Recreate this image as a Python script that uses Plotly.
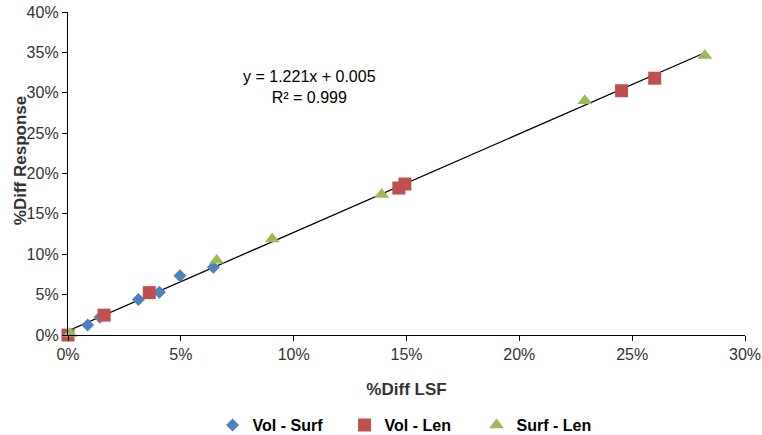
import numpy as np
import plotly.graph_objects as go

# Data (fractions)
vol_surf_x = [0.0087, 0.0142, 0.0312, 0.0405, 0.0496, 0.0644]
vol_surf_y = [0.0123, 0.0220, 0.0440, 0.0530, 0.0735, 0.0840]
vol_len_x = [0.0000, 0.0160, 0.0360, 0.1466, 0.1493, 0.2453, 0.2600]
vol_len_y = [0.0000, 0.0246, 0.0525, 0.1820, 0.1870, 0.3025, 0.3180]
surf_len_x = [0.0009, 0.0659, 0.0905, 0.1390, 0.2290, 0.2822]
surf_len_y = [0.0020, 0.0925, 0.1190, 0.1740, 0.2900, 0.3460]
slope, intercept, r2 = 1.221, 0.005, 0.999
x_ticks = [0, 0.05, 0.10, 0.15, 0.20, 0.25, 0.30]
y_ticks = [0, 0.05, 0.10, 0.15, 0.20, 0.25, 0.30, 0.35, 0.40]

FONT = "Liberation Sans, Arial"
all_x = vol_surf_x + vol_len_x + surf_len_x
line_x = np.array([min(all_x), max(all_x)])
line_y = slope * line_x + intercept

fig = go.Figure()
fig.add_trace(go.Scatter(x=line_x, y=line_y, mode="lines",
                         line=dict(color="black", width=1.3), showlegend=False, hoverinfo="skip"))
fig.add_trace(go.Scatter(x=vol_surf_x, y=vol_surf_y, mode="markers", name="<b>Vol - Surf</b>",
                         marker=dict(symbol="diamond", size=10, color="#4F81BD")))
fig.add_trace(go.Scatter(x=vol_len_x, y=vol_len_y, mode="markers", name="<b>Vol - Len</b>",
                         marker=dict(symbol="square", size=13, color="#C0504D")))
fig.add_trace(go.Scatter(x=surf_len_x, y=surf_len_y, mode="markers", name="<b>Surf - Len</b>",
                         marker=dict(symbol="triangle-up", size=13, color="#9BBB59")))
fig.update_traces(cliponaxis=False)

fig.add_annotation(x=0.107, y=0.307, xref="x", yref="y",
                   text=f"y = {slope}x + {intercept}<br>R² = {r2}",
                   showarrow=False, align="center",
                   font=dict(family=FONT, size=16, color="black"))

fig.add_annotation(x=-0.087, y=0.54, xref="paper", yref="paper", textangle=-90,
                   text="<b>%Diff Response</b>", showarrow=False,
                   font=dict(family=FONT, size=17, color="#333333"))

axis_common = dict(showline=True, linecolor="black", linewidth=1.3, showgrid=False, zeroline=False,
                   ticks="outside", ticklen=5, tickcolor="black", tickformat=".0%", automargin=False,
                   tickfont=dict(family=FONT, size=16, color="#333333"))
fig.update_xaxes(range=[0, 0.30], tickvals=x_ticks,
                 title=dict(text="<b>%Diff LSF</b>", standoff=20,
                            font=dict(family=FONT, size=17, color="#333333")), **axis_common)
fig.update_yaxes(range=[0, 0.40], tickvals=y_ticks, **axis_common)

fig.update_layout(
    template="none",
    width=762, height=435,
    margin=dict(l=68, r=17, t=12, b=100, autoexpand=False),
    paper_bgcolor="white", plot_bgcolor="white",
    legend=dict(orientation="h", x=0.506, xanchor="center", y=-0.226, yanchor="top",
                font=dict(family=FONT, size=16, color="black"),
                itemwidth=30, tracegroupgap=0, entrywidth=87, entrywidthmode="pixels"),
    font=dict(family=FONT),
    showlegend=True,
)

fig.write_html("out.html", config={"displayModeBar": False},
               post_script="document.body.style.margin='0';")
